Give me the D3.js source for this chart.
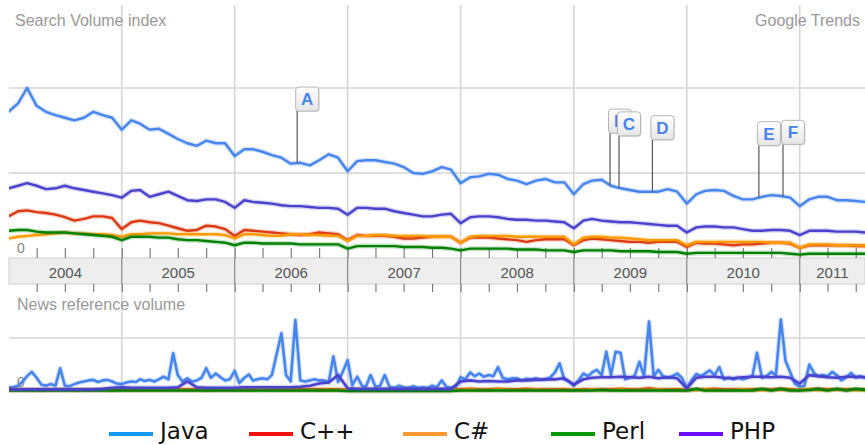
<!DOCTYPE html>
<html>
<head>
<meta charset="utf-8">
<script src="https://cdn.jsdelivr.net/npm/d3@7"></script>
<style>
  body { margin: 0; background: #fff; }
  svg { display: block; font-family: "Liberation Sans", Arial, sans-serif; }
  .caption { fill: #999; font-size: 16px; }
  .zero { fill: #888; font-size: 14px; }
  .year { fill: #555; font-size: 15px; text-anchor: middle; }
  .grid { stroke: #d6d6d6; stroke-width: 1.6; }
  .ticks .tick line { stroke: #666; }
  .marker text { font-size: 17px; font-weight: bold; fill: #4684ee; text-anchor: middle; }
  .legend text { font-family: "DejaVu Sans", sans-serif; font-size: 23px; fill: #111; }
</style>
</head>
<body>
<svg id="chart" width="865" height="445"></svg>
<script>
// ---- data (search volume index, monthly Jan 2004 - Aug 2011) ----
const seriesNames = ['Java', 'C++', 'C#', 'Perl', 'PHP'];
const years = ['2004', '2005', '2006', '2007', '2008', '2009', '2010', '2011'];

const javaSearch = [
  1.72, 1.82, 2.00, 1.79, 1.72, 1.68, 1.65, 1.62, 1.65, 1.72, 1.68, 1.65,
  1.51, 1.62, 1.58, 1.51, 1.52, 1.46, 1.40, 1.35, 1.32, 1.38, 1.35, 1.35,
  1.20, 1.28, 1.28, 1.25, 1.21, 1.18, 1.11, 1.12, 1.09, 1.15, 1.22, 1.18,
  1.02, 1.14, 1.15, 1.15, 1.13, 1.11, 1.07, 1.00, 0.99, 1.02, 1.07, 1.04,
  0.88, 0.95, 0.96, 0.99, 0.98, 0.93, 0.91, 0.87, 0.91, 0.93, 0.89, 0.89,
  0.75, 0.87, 0.91, 0.92, 0.85, 0.82, 0.80, 0.78, 0.78, 0.78, 0.81, 0.78,
  0.64, 0.75, 0.79, 0.80, 0.79, 0.73, 0.69, 0.69, 0.72, 0.74, 0.73, 0.71,
  0.61, 0.69, 0.72, 0.72, 0.68, 0.68, 0.67, 0.66];
const cppSearch = [
  0.49, 0.55, 0.56, 0.54, 0.53, 0.51, 0.48, 0.44, 0.46, 0.49, 0.49, 0.47,
  0.34, 0.42, 0.44, 0.42, 0.41, 0.38, 0.35, 0.32, 0.33, 0.38, 0.37, 0.34,
  0.26, 0.33, 0.32, 0.31, 0.30, 0.29, 0.28, 0.27, 0.28, 0.30, 0.29, 0.28,
  0.21, 0.27, 0.26, 0.26, 0.26, 0.25, 0.23, 0.23, 0.24, 0.25, 0.25, 0.25,
  0.18, 0.24, 0.24, 0.24, 0.23, 0.22, 0.21, 0.19, 0.21, 0.22, 0.22, 0.22,
  0.15, 0.21, 0.23, 0.22, 0.21, 0.20, 0.19, 0.19, 0.18, 0.19, 0.19, 0.19,
  0.13, 0.18, 0.17, 0.17, 0.16, 0.15, 0.16, 0.16, 0.17, 0.18, 0.18, 0.17,
  0.12, 0.15, 0.15, 0.15, 0.15, 0.15, 0.14, 0.14];
const csharpSearch = [
  0.23, 0.25, 0.26, 0.27, 0.28, 0.29, 0.30, 0.29, 0.29, 0.28, 0.28, 0.27,
  0.25, 0.28, 0.28, 0.29, 0.29, 0.29, 0.28, 0.28, 0.28, 0.28, 0.28, 0.27,
  0.23, 0.28, 0.28, 0.27, 0.26, 0.26, 0.28, 0.28, 0.27, 0.27, 0.26, 0.26,
  0.20, 0.26, 0.26, 0.27, 0.27, 0.26, 0.26, 0.26, 0.26, 0.25, 0.25, 0.25,
  0.18, 0.25, 0.26, 0.26, 0.26, 0.26, 0.25, 0.25, 0.25, 0.25, 0.25, 0.25,
  0.16, 0.24, 0.25, 0.25, 0.24, 0.24, 0.23, 0.22, 0.21, 0.21, 0.21, 0.21,
  0.15, 0.19, 0.19, 0.19, 0.19, 0.19, 0.19, 0.19, 0.19, 0.18, 0.18, 0.18,
  0.12, 0.16, 0.16, 0.16, 0.15, 0.15, 0.15, 0.15];
const perlSearch = [
  0.32, 0.33, 0.33, 0.31, 0.30, 0.30, 0.30, 0.29, 0.28, 0.27, 0.26, 0.25,
  0.21, 0.25, 0.25, 0.25, 0.24, 0.24, 0.22, 0.21, 0.21, 0.20, 0.19, 0.18,
  0.15, 0.18, 0.18, 0.17, 0.17, 0.17, 0.17, 0.16, 0.16, 0.16, 0.16, 0.16,
  0.11, 0.14, 0.14, 0.14, 0.14, 0.14, 0.13, 0.13, 0.13, 0.12, 0.12, 0.11,
  0.09, 0.11, 0.11, 0.11, 0.11, 0.11, 0.10, 0.10, 0.10, 0.09, 0.09, 0.09,
  0.07, 0.09, 0.09, 0.09, 0.09, 0.08, 0.08, 0.08, 0.08, 0.07, 0.07, 0.07,
  0.05, 0.06, 0.06, 0.06, 0.06, 0.06, 0.06, 0.06, 0.06, 0.06, 0.06, 0.05,
  0.04, 0.05, 0.05, 0.05, 0.05, 0.05, 0.05, 0.05];
const phpSearch = [
  0.82, 0.85, 0.88, 0.85, 0.81, 0.82, 0.85, 0.82, 0.80, 0.78, 0.76, 0.74,
  0.71, 0.79, 0.80, 0.72, 0.75, 0.78, 0.73, 0.68, 0.67, 0.69, 0.69, 0.66,
  0.59, 0.68, 0.66, 0.65, 0.64, 0.62, 0.61, 0.61, 0.60, 0.59, 0.59, 0.58,
  0.51, 0.59, 0.59, 0.58, 0.58, 0.55, 0.53, 0.51, 0.49, 0.49, 0.51, 0.52,
  0.41, 0.48, 0.49, 0.49, 0.48, 0.46, 0.45, 0.45, 0.44, 0.44, 0.43, 0.42,
  0.35, 0.44, 0.46, 0.44, 0.43, 0.42, 0.42, 0.41, 0.40, 0.39, 0.38, 0.38,
  0.30, 0.36, 0.37, 0.37, 0.36, 0.36, 0.34, 0.32, 0.32, 0.33, 0.33, 0.32,
  0.27, 0.32, 0.32, 0.32, 0.31, 0.31, 0.31, 0.30];

// news reference volume: Java twice a month (1st, 16th), the rest monthly
const javaNews = [
  0.07, 0.07, 0.10, 0.18, 0.28, 0.36, 0.25, 0.12, 0.10, 0.13, 0.10, 0.43,
  0.10, 0.09, 0.13, 0.16, 0.18, 0.20, 0.21, 0.17, 0.20, 0.21, 0.18, 0.14,
  0.13, 0.16, 0.18, 0.17, 0.22, 0.19, 0.21, 0.18, 0.22, 0.27, 0.22, 0.71,
  0.30, 0.18, 0.24, 0.18, 0.20, 0.25, 0.43, 0.25, 0.33, 0.26, 0.20, 0.22,
  0.38, 0.15, 0.25, 0.31, 0.20, 0.22, 0.24, 0.22, 0.30, 0.68, 1.09, 0.30,
  0.18, 1.34, 0.20, 0.18, 0.20, 0.22, 0.20, 0.20, 0.17, 0.65, 0.17, 0.36,
  0.58, 0.11, 0.27, 0.10, 0.08, 0.30, 0.08, 0.10, 0.30, 0.08, 0.06, 0.10,
  0.07, 0.06, 0.09, 0.06, 0.07, 0.06, 0.10, 0.07, 0.20, 0.08, 0.06, 0.06,
  0.26, 0.22, 0.35, 0.28, 0.33, 0.27, 0.30, 0.28, 0.45, 0.25, 0.22, 0.24,
  0.24, 0.20, 0.23, 0.22, 0.24, 0.21, 0.22, 0.25, 0.35, 0.52, 0.22, 0.18,
  0.10, 0.20, 0.33, 0.28, 0.35, 0.40, 0.30, 0.74, 0.30, 0.74, 0.72, 0.22,
  0.25, 0.28, 0.55, 0.28, 1.31, 0.28, 0.40, 0.28, 0.25, 0.28, 0.33, 0.25,
  0.06, 0.20, 0.32, 0.28, 0.33, 0.39, 0.30, 0.45, 0.22, 0.25, 0.22, 0.25,
  0.22, 0.25, 0.28, 0.72, 0.25, 0.28, 0.36, 0.30, 1.35, 0.57, 0.36, 0.14,
  0.08, 0.10, 0.50, 0.34, 0.28, 0.30, 0.28, 0.36, 0.30, 0.20, 0.26, 0.34,
  0.25, 0.28, 0.25, 0.26];
const cppNews = [
  0.03, 0.03, 0.03, 0.02, 0.03, 0.03, 0.03, 0.02, 0.03, 0.03, 0.03, 0.02,
  0.03, 0.03, 0.03, 0.03, 0.03, 0.03, 0.03, 0.03, 0.03, 0.02, 0.03, 0.03,
  0.03, 0.03, 0.03, 0.03, 0.03, 0.03, 0.03, 0.03, 0.03, 0.03, 0.03, 0.03,
  0.02, 0.02, 0.02, 0.02, 0.02, 0.02, 0.02, 0.02, 0.02, 0.02, 0.02, 0.02,
  0.03, 0.04, 0.03, 0.03, 0.04, 0.03, 0.03, 0.04, 0.03, 0.03, 0.03, 0.03,
  0.02, 0.03, 0.03, 0.03, 0.03, 0.04, 0.03, 0.03, 0.05, 0.03, 0.03, 0.03,
  0.02, 0.03, 0.03, 0.04, 0.03, 0.03, 0.03, 0.03, 0.03, 0.03, 0.04, 0.03,
  0.02, 0.03, 0.04, 0.03, 0.03, 0.03, 0.03, 0.03];
const csharpNews = [
  0.02, 0.02, 0.02, 0.02, 0.02, 0.02, 0.02, 0.02, 0.02, 0.02, 0.02, 0.02,
  0.02, 0.02, 0.02, 0.02, 0.02, 0.02, 0.02, 0.02, 0.02, 0.02, 0.02, 0.02,
  0.02, 0.02, 0.02, 0.03, 0.02, 0.02, 0.02, 0.02, 0.02, 0.02, 0.02, 0.02,
  0.02, 0.02, 0.02, 0.02, 0.02, 0.02, 0.02, 0.02, 0.02, 0.02, 0.02, 0.02,
  0.02, 0.03, 0.02, 0.02, 0.03, 0.02, 0.02, 0.02, 0.03, 0.02, 0.02, 0.02,
  0.02, 0.02, 0.03, 0.02, 0.02, 0.03, 0.02, 0.02, 0.02, 0.03, 0.02, 0.02,
  0.02, 0.02, 0.03, 0.02, 0.02, 0.02, 0.03, 0.02, 0.02, 0.02, 0.03, 0.02,
  0.02, 0.03, 0.02, 0.02, 0.03, 0.02, 0.02, 0.02];
const perlNews = [
  0.01, 0.01, 0.01, 0.01, 0.01, 0.01, 0.01, 0.01, 0.01, 0.01, 0.01, 0.01,
  0.01, 0.01, 0.01, 0.01, 0.01, 0.01, 0.01, 0.01, 0.01, 0.01, 0.01, 0.01,
  0.01, 0.01, 0.01, 0.01, 0.01, 0.01, 0.01, 0.01, 0.01, 0.01, 0.01, 0.01,
  0.00, 0.00, 0.00, 0.00, 0.00, 0.00, 0.00, 0.00, 0.00, 0.00, 0.00, 0.00,
  0.01, 0.01, 0.01, 0.01, 0.01, 0.01, 0.01, 0.01, 0.01, 0.01, 0.01, 0.01,
  0.01, 0.01, 0.01, 0.02, 0.01, 0.01, 0.01, 0.01, 0.01, 0.01, 0.01, 0.01,
  0.01, 0.04, 0.01, 0.01, 0.01, 0.01, 0.01, 0.01, 0.04, 0.01, 0.04, 0.01,
  0.01, 0.02, 0.04, 0.01, 0.04, 0.01, 0.04, 0.02];
const phpNews = [
  0.03, 0.03, 0.03, 0.03, 0.03, 0.03, 0.03, 0.03, 0.03, 0.03, 0.04, 0.06,
  0.07, 0.06, 0.06, 0.06, 0.06, 0.06, 0.07, 0.18, 0.07, 0.06, 0.06, 0.06,
  0.06, 0.07, 0.07, 0.07, 0.07, 0.07, 0.07, 0.08, 0.10, 0.14, 0.16, 0.30,
  0.05, 0.04, 0.04, 0.04, 0.04, 0.04, 0.04, 0.04, 0.04, 0.04, 0.04, 0.04,
  0.18, 0.20, 0.18, 0.19, 0.18, 0.18, 0.20, 0.20, 0.21, 0.22, 0.22, 0.24,
  0.12, 0.22, 0.25, 0.26, 0.26, 0.27, 0.26, 0.25, 0.27, 0.24, 0.26, 0.24,
  0.05, 0.25, 0.27, 0.27, 0.25, 0.24, 0.26, 0.27, 0.27, 0.26, 0.27, 0.25,
  0.14, 0.30, 0.28, 0.26, 0.25, 0.27, 0.27, 0.26];

// news event flags
const markerLetters = ['A', 'B', 'C', 'D', 'E', 'F'];
const markerDates = ['2006-07-22', '2009-04-28', '2009-05-27', '2009-09-12', '2010-08-22', '2010-11-08'];

// ---- layout ----
const PLOT = { left: 9, right: 865 };
const TOP = { zero: 258, top: 3 };
const BAND = { top: 258, bottom: 284 };
const NEWS = { zero: 391, top: 285 };
const LINE_COLORS = ['#4684ee', '#dc3912', '#ff9900', '#008000', '#4942cc'];
const LEGEND_COLORS = ['#139cf7', '#f20f0f', '#ff9933', '#0a960a', '#6a0cf7'];
const LEGEND_X = [109, 249, 403, 551, 679];
const LEGEND_Y = 434;
const STEM = 52;

/* global d3 */
const parseDay = d3.timeParse('%Y-%m-%d');
const months = d3.timeMonth.range(new Date(2004, 0, 1), new Date(2011, 8, 1));
const halfMonths = months.flatMap(m => [m, d3.timeDay.offset(m, 15)]);

const search = [javaSearch, cppSearch, csharpSearch, perlSearch, phpSearch]
  .map((vals, i) => ({ name: seriesNames[i], values: vals.map((v, j) => ({ date: months[j], v })) }));
const news = [
  javaNews.map((v, j) => ({ date: halfMonths[j], v })),
  cppNews.map((v, j) => ({ date: months[j], v })),
  csharpNews.map((v, j) => ({ date: months[j], v })),
  perlNews.map((v, j) => ({ date: months[j], v })),
  phpNews.map((v, j) => ({ date: months[j], v }))
];

const x = d3.scaleTime()
  .domain([new Date(2004, 0, 1), new Date(2011, 6, 31)])
  .range([8.5, PLOT.right]);
const yTop = d3.scaleLinear().domain([0, 3]).range([TOP.zero, TOP.top]);
const yNews = d3.scaleLinear().domain([0, 2]).range([NEWS.zero, NEWS.top]);

const $svg = d3.select('#chart');
const defs = $svg.append('defs');
defs.append('clipPath').attr('id', 'plotClip')
  .append('rect').attr('x', PLOT.left).attr('y', 0).attr('width', PLOT.right - PLOT.left).attr('height', 445);
const grad = defs.append('linearGradient').attr('id', 'flagFill').attr('x1', 0).attr('x2', 0).attr('y1', 0).attr('y2', 1);
grad.append('stop').attr('offset', '0%').attr('stop-color', '#ffffff');
grad.append('stop').attr('offset', '100%').attr('stop-color', '#e6e6e6');

const yearStarts = d3.timeYear.range(new Date(2005, 0, 1), new Date(2012, 0, 1)).filter(d => x(d) < PLOT.right);

// GRID
const $grid = $svg.append('g');
$grid.selectAll('line.v-top').data(yearStarts).join('line')
  .attr('class', 'grid')
  .attr('x1', d => x(d)).attr('x2', d => x(d))
  .attr('y1', 5).attr('y2', BAND.top);
$grid.selectAll('line.v-news').data(yearStarts).join('line')
  .attr('class', 'grid v-news')
  .attr('x1', d => x(d)).attr('x2', d => x(d))
  .attr('y1', BAND.bottom).attr('y2', NEWS.zero + 1);
$grid.selectAll('line.h-top').data([1, 2]).join('line')
  .attr('class', 'grid h-top')
  .attr('x1', PLOT.left).attr('x2', PLOT.right)
  .attr('y1', d => yTop(d)).attr('y2', d => yTop(d));
$grid.selectAll('line.h-news').data([1]).join('line')
  .attr('class', 'grid h-news')
  .attr('x1', PLOT.left).attr('x2', PLOT.right)
  .attr('y1', d => yNews(d)).attr('y2', d => yNews(d));

// TIME BAND
$svg.append('rect')
  .attr('x', PLOT.left).attr('y', BAND.top)
  .attr('width', PLOT.right - PLOT.left).attr('height', BAND.bottom - BAND.top)
  .attr('fill', '#eeeeee').attr('stroke', '#cfcfcf');
$svg.append('g').selectAll('line').data(yearStarts).join('line')
  .attr('x1', d => x(d)).attr('x2', d => x(d))
  .attr('y1', BAND.top).attr('y2', BAND.bottom)
  .attr('stroke', '#8a8a8a').attr('stroke-width', 1.2);

const quarterTicks = d3.timeMonth.every(3).range(new Date(2004, 3, 1), new Date(2011, 8, 1))
  .filter(d => x(d) < PLOT.right);

$svg.append('g').attr('class', 'ticks')
  .attr('transform', `translate(0,${BAND.top})`)
  .call(d3.axisTop(x).tickValues(quarterTicks).tickSize(10).tickFormat(''))
  .call(g => g.select('.domain').remove());
$svg.append('g').attr('class', 'ticks')
  .attr('transform', `translate(0,${BAND.bottom})`)
  .call(d3.axisBottom(x).tickValues(quarterTicks).tickSize(8).tickFormat(''))
  .call(g => g.select('.domain').remove());

$svg.append('g').selectAll('text').data(years).join('text')
  .attr('class', 'year')
  .attr('x', d => {
    const a = Math.max(x(new Date(+d, 0, 1)), PLOT.left);
    const b = Math.min(x(new Date(+d + 1, 0, 1)), PLOT.right);
    return (a + b) / 2;
  })
  .attr('y', 278)
  .text(d => d);

// CAPTIONS
$svg.append('text').attr('class', 'caption').attr('x', 15).attr('y', 26).text('Search Volume index');
$svg.append('text').attr('class', 'caption').attr('x', 860).attr('y', 26).attr('text-anchor', 'end').text('Google Trends');
$svg.append('text').attr('class', 'caption').attr('x', 17).attr('y', 310).text('News reference volume');
$svg.append('text').attr('class', 'zero').attr('x', 17).attr('y', 253).text('0');
$svg.append('text').attr('class', 'zero').attr('x', 17).attr('y', 387).text('0');

// LINES
const lineTop = d3.line().x(d => x(d.date)).y(d => yTop(d.v));
const lineNews = d3.line().x(d => x(d.date)).y(d => yNews(d.v));

const $lines = $svg.append('g').attr('clip-path', 'url(#plotClip)');
search.forEach((s, i) => {
  $lines.append('path').datum(s.values)
    .attr('d', lineTop).attr('fill', 'none')
    .attr('stroke', LINE_COLORS[i]).attr('stroke-opacity', 0.22)
    .attr('stroke-width', 5).attr('stroke-linejoin', 'round');
  $lines.append('path').datum(s.values)
    .attr('d', lineTop).attr('fill', 'none')
    .attr('stroke', LINE_COLORS[i])
    .attr('stroke-width', 2.4).attr('stroke-linejoin', 'round');
});
news.forEach((vals, i) => {
  $lines.append('path').datum(vals)
    .attr('d', lineNews).attr('fill', 'none')
    .attr('stroke', LINE_COLORS[i]).attr('stroke-opacity', 0.22)
    .attr('stroke-width', 5).attr('stroke-linejoin', 'round');
  $lines.append('path').datum(vals)
    .attr('d', lineNews).attr('fill', 'none')
    .attr('stroke', LINE_COLORS[i])
    .attr('stroke-width', 2.6).attr('stroke-linejoin', 'round');
});

// FLAGS
const bisect = d3.bisector(d => d.date).left;
function javaAt(date) {
  const vals = search[0].values;
  const i = Math.max(1, Math.min(vals.length - 1, bisect(vals, date)));
  const a = vals[i - 1], b = vals[i];
  const t = (date - a.date) / (b.date - a.date);
  return a.v + (b.v - a.v) * t;
}

const $flags = $svg.append('g');
markerLetters.forEach((letter, i) => {
  const date = parseDay(markerDates[i]);
  const fx = x(date);
  const fy = yTop(javaAt(date));
  const g = $flags.append('g').attr('class', 'marker');
  g.append('line')
    .attr('x1', fx).attr('x2', fx)
    .attr('y1', fy - STEM).attr('y2', fy)
    .attr('stroke', '#555').attr('stroke-width', 1.2);
  g.append('rect')
    .attr('x', fx - 1.5 + 1).attr('y', fy - STEM - 24 + 1)
    .attr('width', 23).attr('height', 24).attr('rx', 3)
    .attr('fill', '#000').attr('opacity', 0.12);
  g.append('rect')
    .attr('x', fx - 1.5).attr('y', fy - STEM - 24)
    .attr('width', 23).attr('height', 24).attr('rx', 3)
    .attr('fill', 'url(#flagFill)').attr('stroke', '#b5b5b5');
  g.append('text')
    .attr('x', fx - 1.5 + 11.5).attr('y', fy - STEM - 6)
    .text(letter);
});

// LEGEND
const $legend = $svg.append('g').attr('class', 'legend');
seriesNames.forEach((name, i) => {
  $legend.append('line')
    .attr('x1', LEGEND_X[i]).attr('x2', LEGEND_X[i] + 44)
    .attr('y1', LEGEND_Y).attr('y2', LEGEND_Y)
    .attr('stroke', LEGEND_COLORS[i]).attr('stroke-width', 4);
  $legend.append('text')
    .attr('x', LEGEND_X[i] + 51).attr('y', 439)
    .text(name);
});
</script>
</body>
</html>
